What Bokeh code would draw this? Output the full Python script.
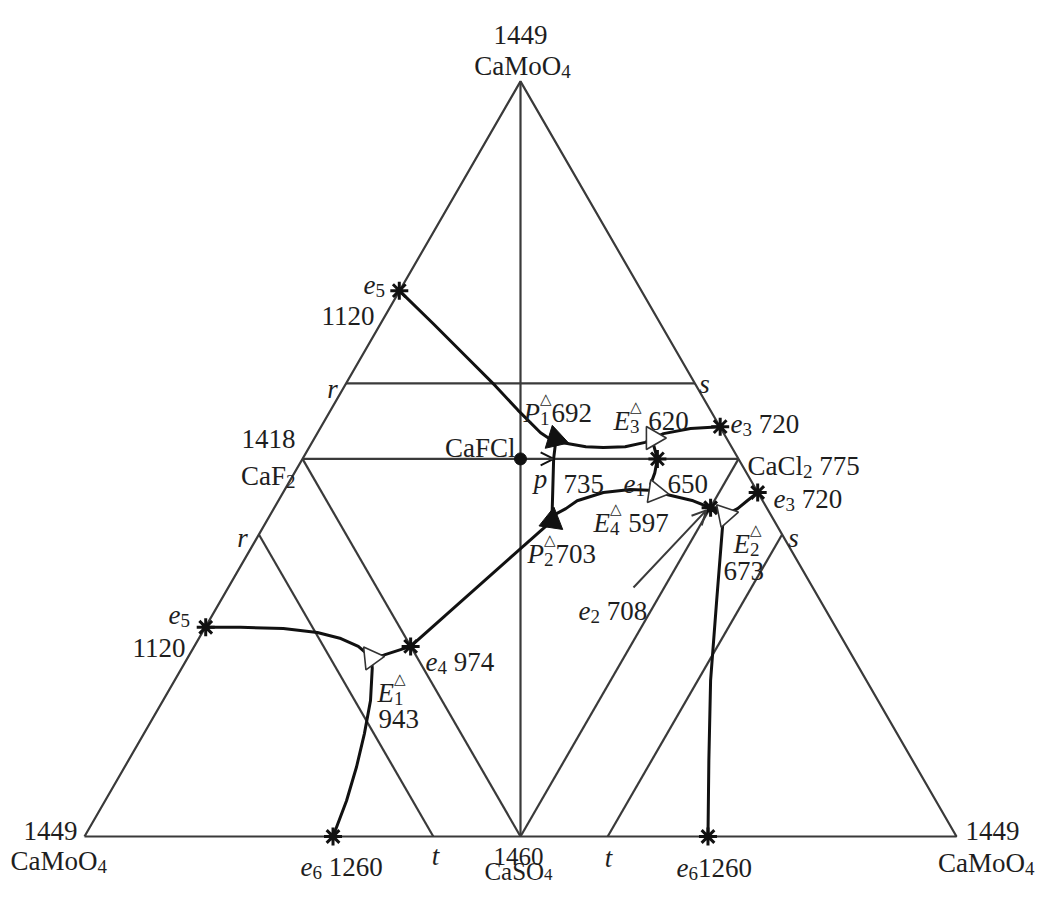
import math
from bokeh.plotting import figure
from bokeh.models import Range1d, Arrow, OpenHead
from bokeh.core.properties import value
from bokeh.embed import file_html
from bokeh.resources import INLINE

# ---------------- data (diagram units: side of big triangle = 100) ----------------
H = 86.6
vertex_x = [0, 50, 100, 0]          # CaMoO4 (left) - CaMoO4 (top) - CaMoO4 (right)
vertex_y = [0, H, 0, 0]
caf2 = (25.0, 43.3)
cacl2 = (75.0, 43.3)
caso4 = (50.0, 0.0)
cafcl = (50.0, 43.3)
top = (50.0, H)
r_frac = 0.2                        # r / s sections at 20 mol % CaMoO4

# monovariant curves
c1_x = [36.1, 40.0, 43.9, 47.1, 49.7, 52.3, 53.8, 54.5]          # e5 -> P1 (upper)
c1_y = [62.6, 58.8, 54.9, 51.7, 48.9, 46.3, 45.3, 45.1]
c2_x = [54.0, 55.2, 57.5, 59.5, 62.0, 64.3, 66.4, 69.5, 72.9]    # P1 -> E3 -> e3
c2_y = [45.4, 45.1, 44.7, 44.6, 44.7, 45.2, 46.2, 46.8, 47.0]
c3_x = [65.1, 65.7, 65.4, 64.9]                                  # E3 -> e1 -> E4
c3_y = [45.5, 43.3, 41.7, 40.3]
c4_x = [53.7, 55.2, 56.5, 59.5, 62.6, 64.7, 66.9, 69.8, 71.8]    # P2 -> E4 -> e2
c4_y = [36.8, 37.6, 38.5, 39.45, 39.8, 39.7, 39.2, 38.5, 37.7]
c5_x = [71.8, 73.5, 74.9, 76.0, 77.2]                            # e2 -> E2 -> e3
c5_y = [37.7, 36.9, 37.6, 38.5, 39.45]
c6_x = [73.2, 72.5, 71.8, 71.6, 71.5]                            # E2 -> e6
c6_y = [35.9, 27.1, 17.9, 8.7, 0.0]
c7_x = [13.9, 17.9, 22.8, 26.7, 29.4, 31.4, 32.9]                # e5 -> E1 (lower)
c7_y = [24.0, 24.0, 23.85, 23.4, 22.7, 21.8, 20.5]
c8_x = [32.9, 34.3, 37.4]                                        # E1 -> e4
c8_y = [20.5, 20.8, 21.8]
c9_x = [37.4, 53.6]                                              # e4 -> P2
c9_y = [21.8, 36.2]
c10_x = [54.0, 53.8, 53.7, 53.6]                                 # P1 -> p -> P2
c10_y = [45.0, 43.3, 39.7, 36.2]
c11_x = [32.9, 33.0, 32.8, 32.1, 31.2, 30.05, 28.5]              # E1 -> e6
c11_y = [20.5, 19.3, 15.6, 11.8, 8.0, 4.1, 0.0]

# invariant / binary points
star_x = [36.1, 72.9, 65.7, 71.8, 77.2, 37.4, 13.9, 28.5, 71.5]  # e5, e3, e1, e2, e3, e4, e5, e6, e6
star_y = [62.6, 47.0, 43.3, 37.7, 39.45, 21.8, 24.0, 0.0, 0.0]
peri_x = [54.0, 53.6]        # P1, P2
peri_y = [45.6, 36.2]
eut_x = [65.2, 65.5, 73.5, 32.9]   # E3, E4, E2, E1
eut_y = [45.7, 39.5, 36.9, 20.5]
p_point = (53.8, 43.3)

# ---------------- layout ----------------
X0, Y0, S = 84.0, 836.0, 8.72      # picture position of left vertex, px per unit
W, HT = 1036, 885


def px2d(px, py):
    return ((px - X0) / S, (Y0 - py) / S)


p = figure(width=W, height=HT, output_backend="svg", toolbar_location=None,
           x_range=Range1d((0 - X0) / S, (W - X0) / S),
           y_range=Range1d((Y0 - HT) / S, Y0 / S),
           min_border=0, outline_line_color=None)
p.xaxis.visible = False
p.yaxis.visible = False
p.grid.visible = False
p.background_fill_color = "white"
p.border_fill_color = "white"

EDGE = "#3a3a3a"
CURVE = "#111111"

p.line(vertex_x, vertex_y, line_color=EDGE, line_width=2.2)


def seg(a, b):
    p.line([a[0], b[0]], [a[1], b[1]], line_color=EDGE, line_width=2.2)


def lerp(a, b, f):
    return (a[0] + (b[0] - a[0]) * f, a[1] + (b[1] - a[1]) * f)


left_v = (vertex_x[0], vertex_y[0])
right_v = (vertex_x[2], vertex_y[2])
seg(top, caso4)
seg(caf2, cacl2)
seg(caf2, caso4)
seg(cacl2, caso4)
seg(lerp(caf2, top, r_frac), lerp(cacl2, top, r_frac))
seg(lerp(caf2, left_v, r_frac), lerp(caso4, left_v, r_frac))
seg(lerp(cacl2, right_v, r_frac), lerp(caso4, right_v, r_frac))

for cx, cy in [(c1_x, c1_y), (c2_x, c2_y), (c3_x, c3_y), (c4_x, c4_y), (c5_x, c5_y),
               (c6_x, c6_y), (c7_x, c7_y), (c8_x, c8_y), (c9_x, c9_y), (c10_x, c10_y),
               (c11_x, c11_y)]:
    p.line(cx, cy, line_color=CURVE, line_width=3)

# arrows (p and e2 leader)
p.add_layout(Arrow(end=OpenHead(size=13, line_width=2, line_color=CURVE),
                   x_start=p_point[0] - 2.5, y_start=p_point[1],
                   x_end=p_point[0], y_end=p_point[1],
                   line_width=2, line_color=EDGE))
ls = px2d(633, 587)
p.add_layout(Arrow(end=OpenHead(size=14, line_width=2, line_color=EDGE),
                   x_start=ls[0], y_start=ls[1], x_end=star_x[3] - 0.5, y_end=star_y[3] - 0.3,
                   line_width=2, line_color=EDGE))

# markers
p.scatter([cafcl[0]], [cafcl[1]], marker="circle", size=12, fill_color=CURVE, line_color=CURVE)
p.scatter(star_x, star_y, marker="asterisk", size=18, line_color=CURVE, line_width=3)
p.scatter(peri_x, peri_y, marker="triangle", size=24, fill_color=CURVE, line_color=CURVE,
          angle=[-math.pi / 2 - 0.3, -0.15])
p.scatter(eut_x, eut_y, marker="triangle", size=23, fill_color="white", line_color="#333333",
          line_width=1.6, angle=[-math.pi / 2, -math.pi / 2 - 0.15, -math.pi / 2 + 0.2, -math.pi / 2 + 0.1])

# ---------------- texts ----------------
FONT = "Liberation Serif"
FS, SFS, TFS = 27, 19, 15
TXT = "#1e1e1e"
EM = {"0": .5, "1": .5, "2": .5, "3": .5, "4": .5, "5": .5, "6": .5, "7": .5, "8": .5, "9": .5,
      "C": .667, "a": .444, "M": .889, "o": .5, "O": .722, "F": .556, "l": .278, "S": .556,
      " ": .25, "e": .444, "E": .611, "P": .611, "p": .5, "r": .389, "s": .389, "t": .278}


def width(s, size):
    return sum(EM.get(ch, .5) for ch in s) * size


def put(s, px, py, size, italic=False, align="left", font=FONT):
    x, y = px2d(px, py)
    p.text(x=[x], y=[y], text=[s], text_font=value(font), text_font_size=f"{size}px",
           text_font_style="italic" if italic else "normal",
           text_align=align, text_baseline="alphabetic", text_color=TXT)


def label(pieces, px, py, align="left", drop=6, fs=FS, sfs=SFS):
    """pieces: list of (text, kind); kind n=normal, i=italic, s=subscript,
    u=subscript with a triangle superscript stacked above."""
    total = 0.0
    for t, k in pieces:
        total += width(t, sfs if k in "su" else fs)
    x = px - (total / 2 if align == "center" else total if align == "right" else 0)
    for t, k in pieces:
        size = sfs if k in "su" else fs
        lead = len(t) - len(t.lstrip(" "))
        x += lead * EM[" "] * size
        t = t.lstrip(" ")
        if k in "su":
            put(t, x, py + drop, sfs)
            if k == "u":
                put("\u25b3", x, py - 14, TFS, font="DejaVu Sans")
            x += max(width(t, sfs), 0.77 * TFS if k == "u" else 0)
        else:
            put(t, x, py, fs, italic=(k == "i"))
            x += width(t, fs)


labels = [
    # vertices
    ([("1449", "n")], 520, 34, "center"),
    ([("CaMoO", "n"), ("4", "s")], 522, 65, "center"),
    ([("1449", "n")], 50, 830, "center"),
    ([("CaMoO", "n"), ("4", "s")], 10, 860, "left"),
    ([("1449", "n")], 992, 830, "center"),
    ([("CaMoO", "n"), ("4", "s")], 1034, 862, "right"),
    ([("1418", "n")], 295, 438, "right"),
    ([("CaF", "n"), ("2", "s")], 295, 475, "right"),
    ([("CaFCl", "n")], 515, 447, "right"),
    ([("CaCl", "n"), ("2", "s"), (" 775", "n")], 747, 465, "left"),
    # bottom
    ([("e", "i"), ("6", "s"), (" 1260", "n")], 300, 866, "left"),
    ([("t", "i")], 435, 855, "center"),
    ([("t", "i")], 608, 857, "center"),
    ([("e", "i"), ("6", "s"), ("1260", "n")], 676, 867, "left"),
    # left
    ([("e", "i"), ("5", "s")], 363, 284, "left"),
    ([("1120", "n")], 375, 315, "right"),
    ([("r", "i")], 332, 388, "center"),
    ([("r", "i")], 242, 537, "center"),
    ([("e", "i"), ("5", "s")], 168, 614, "left"),
    ([("1120", "n")], 186, 647, "right"),
    # centre
    ([("P", "i"), ("1", "u"), ("692", "n")], 523, 412, "left"),
    ([("E", "i"), ("3", "u"), (" 620", "n")], 613, 420, "left"),
    ([("e", "i"), ("3", "s"), (" 720", "n")], 730, 423, "left"),
    ([("s", "i")], 704, 383, "center"),
    ([("p", "i")], 540, 478, "center"),
    ([("735", "n")], 563, 483, "left"),
    ([("e", "i"), ("1", "s")], 623, 483, "left"),
    ([("650", "n")], 667, 483, "left"),
    ([("E", "i"), ("4", "u"), (" 597", "n")], 593, 522, "left"),
    ([("P", "i"), ("2", "u"), ("703", "n")], 527, 553, "left"),
    ([("e", "i"), ("3", "s"), (" 720", "n")], 773, 498, "left"),
    ([("E", "i"), ("2", "u")], 733, 543, "left"),
    ([("673", "n")], 723, 570, "left"),
    ([("s", "i")], 793, 537, "center"),
    ([("e", "i"), ("2", "s"), (" 708", "n")], 578, 610, "left"),
    ([("e", "i"), ("4", "s"), (" 974", "n")], 425, 661, "left"),
    ([("E", "i"), ("1", "u")], 377, 692, "left"),
    ([("943", "n")], 378, 718, "left"),
]
for pieces, px, py, align in labels:
    label(pieces, px, py, align)
# 1460 / CaSO4 sit at the very bottom: slightly smaller and lifted to stay inside the page
label([("1460", "n")], 518, 856, "center", fs=25)
label([("CaSO", "n"), ("4", "s")], 518, 871, "center", drop=3, fs=25, sfs=17)

open("out.html", "w").write(file_html(p, INLINE))
